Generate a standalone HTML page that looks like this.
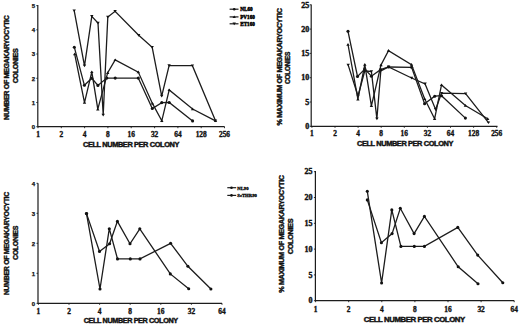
<!DOCTYPE html>
<html><head><meta charset="utf-8"><style>
html,body{margin:0;padding:0;background:#fff;}
body{width:520px;height:326px;overflow:hidden;}
svg{display:block;}
.t{font-family:"Liberation Sans",sans-serif;font-weight:bold;font-size:6.6px;fill:#111;stroke:#111;stroke-width:0.4px;letter-spacing:-0.35px;}
.yt{font-size:7px;}
.lg.lg3{font-size:4.7px;stroke-width:0.3px;}
.ys{font-family:"Liberation Sans",sans-serif;font-weight:bold;font-size:6px;fill:#111;stroke:#111;stroke-width:0.25px;}
.ys2{font-family:"Liberation Serif",serif;font-weight:bold;font-size:8px;fill:#111;stroke:#111;stroke-width:0.4px;}
.xs{font-family:"Liberation Serif",serif;font-weight:bold;font-size:7.4px;fill:#111;stroke:#111;stroke-width:0.35px;}
.lg{font-family:"Liberation Serif",serif;font-weight:bold;font-size:5.2px;fill:#000;stroke:#000;stroke-width:0.45px;}
</style></head><body>
<svg width="520" height="326" viewBox="0 0 520 326">
<rect width="520" height="326" fill="#fff"/>
<path d="M37.8 5.0 V126.7 H224.6" fill="none" stroke="#1c1c1c" stroke-width="1.2"/><path d="M36.3 126.7 H37.8" stroke="#1c1c1c" stroke-width="0.9"/><path d="M36.3 102.5 H37.8" stroke="#1c1c1c" stroke-width="0.9"/><path d="M36.3 78.3 H37.8" stroke="#1c1c1c" stroke-width="0.9"/><path d="M36.3 54.0 H37.8" stroke="#1c1c1c" stroke-width="0.9"/><path d="M36.3 29.8 H37.8" stroke="#1c1c1c" stroke-width="0.9"/><path d="M36.3 5.6 H37.8" stroke="#1c1c1c" stroke-width="0.9"/><path d="M38.0 126.7 V128.2" stroke="#1c1c1c" stroke-width="0.9"/><path d="M61.3 126.7 V128.2" stroke="#1c1c1c" stroke-width="0.9"/><path d="M84.6 126.7 V128.2" stroke="#1c1c1c" stroke-width="0.9"/><path d="M107.9 126.7 V128.2" stroke="#1c1c1c" stroke-width="0.9"/><path d="M131.2 126.7 V128.2" stroke="#1c1c1c" stroke-width="0.9"/><path d="M154.6 126.7 V128.2" stroke="#1c1c1c" stroke-width="0.9"/><path d="M177.9 126.7 V128.2" stroke="#1c1c1c" stroke-width="0.9"/><path d="M201.2 126.7 V128.2" stroke="#1c1c1c" stroke-width="0.9"/><path d="M224.5 126.7 V128.2" stroke="#1c1c1c" stroke-width="0.9"/><text x="35.2" y="129.0" text-anchor="end" class="ys">0</text><text x="35.2" y="104.8" text-anchor="end" class="ys">1</text><text x="35.2" y="80.6" text-anchor="end" class="ys">2</text><text x="35.2" y="56.3" text-anchor="end" class="ys">3</text><text x="35.2" y="32.1" text-anchor="end" class="ys">4</text><text x="35.2" y="7.9" text-anchor="end" class="ys">5</text><text x="38.0" y="136.6" text-anchor="middle" class="xs">1</text><text x="61.3" y="136.6" text-anchor="middle" class="xs">2</text><text x="84.6" y="136.6" text-anchor="middle" class="xs">4</text><text x="107.9" y="136.6" text-anchor="middle" class="xs">8</text><text x="131.2" y="136.6" text-anchor="middle" class="xs">16</text><text x="154.6" y="136.6" text-anchor="middle" class="xs">32</text><text x="177.9" y="136.6" text-anchor="middle" class="xs">64</text><text x="201.2" y="136.6" text-anchor="middle" class="xs">128</text><text x="224.5" y="136.6" text-anchor="middle" class="xs">256</text>
<path d="M311.2 4.5 V126.3 H497.5" fill="none" stroke="#1c1c1c" stroke-width="1.2"/><path d="M309.7 126.3 H311.2" stroke="#1c1c1c" stroke-width="0.9"/><path d="M309.7 102.0 H311.2" stroke="#1c1c1c" stroke-width="0.9"/><path d="M309.7 77.7 H311.2" stroke="#1c1c1c" stroke-width="0.9"/><path d="M309.7 53.4 H311.2" stroke="#1c1c1c" stroke-width="0.9"/><path d="M309.7 29.1 H311.2" stroke="#1c1c1c" stroke-width="0.9"/><path d="M309.7 4.8 H311.2" stroke="#1c1c1c" stroke-width="0.9"/><path d="M311.9 126.3 V127.8" stroke="#1c1c1c" stroke-width="0.9"/><path d="M335.0 126.3 V127.8" stroke="#1c1c1c" stroke-width="0.9"/><path d="M358.1 126.3 V127.8" stroke="#1c1c1c" stroke-width="0.9"/><path d="M381.2 126.3 V127.8" stroke="#1c1c1c" stroke-width="0.9"/><path d="M404.3 126.3 V127.8" stroke="#1c1c1c" stroke-width="0.9"/><path d="M427.4 126.3 V127.8" stroke="#1c1c1c" stroke-width="0.9"/><path d="M450.5 126.3 V127.8" stroke="#1c1c1c" stroke-width="0.9"/><path d="M473.6 126.3 V127.8" stroke="#1c1c1c" stroke-width="0.9"/><path d="M496.7 126.3 V127.8" stroke="#1c1c1c" stroke-width="0.9"/><text x="309.3" y="129.1" text-anchor="end" class="ys2">0</text><text x="309.3" y="104.8" text-anchor="end" class="ys2">5</text><text x="309.3" y="80.4" text-anchor="end" class="ys2">10</text><text x="309.3" y="56.1" text-anchor="end" class="ys2">15</text><text x="309.3" y="31.8" text-anchor="end" class="ys2">20</text><text x="309.3" y="7.5" text-anchor="end" class="ys2">25</text><text x="311.9" y="135.9" text-anchor="middle" class="xs">1</text><text x="335.0" y="135.9" text-anchor="middle" class="xs">2</text><text x="358.1" y="135.9" text-anchor="middle" class="xs">4</text><text x="381.2" y="135.9" text-anchor="middle" class="xs">8</text><text x="404.3" y="135.9" text-anchor="middle" class="xs">16</text><text x="427.4" y="135.9" text-anchor="middle" class="xs">32</text><text x="450.5" y="135.9" text-anchor="middle" class="xs">64</text><text x="473.6" y="135.9" text-anchor="middle" class="xs">128</text><text x="496.7" y="135.9" text-anchor="middle" class="xs">256</text>
<path d="M38.0 183.2 V303.3 H222.0" fill="none" stroke="#1c1c1c" stroke-width="1.2"/><path d="M36.5 303.3 H38.0" stroke="#1c1c1c" stroke-width="0.9"/><path d="M36.5 273.3 H38.0" stroke="#1c1c1c" stroke-width="0.9"/><path d="M36.5 243.3 H38.0" stroke="#1c1c1c" stroke-width="0.9"/><path d="M36.5 213.3 H38.0" stroke="#1c1c1c" stroke-width="0.9"/><path d="M36.5 183.3 H38.0" stroke="#1c1c1c" stroke-width="0.9"/><path d="M38.4 303.3 V304.8" stroke="#1c1c1c" stroke-width="0.9"/><path d="M69.0 303.3 V304.8" stroke="#1c1c1c" stroke-width="0.9"/><path d="M99.6 303.3 V304.8" stroke="#1c1c1c" stroke-width="0.9"/><path d="M130.2 303.3 V304.8" stroke="#1c1c1c" stroke-width="0.9"/><path d="M160.8 303.3 V304.8" stroke="#1c1c1c" stroke-width="0.9"/><path d="M191.4 303.3 V304.8" stroke="#1c1c1c" stroke-width="0.9"/><path d="M222.0 303.3 V304.8" stroke="#1c1c1c" stroke-width="0.9"/><text x="35.2" y="305.6" text-anchor="end" class="ys">0</text><text x="35.2" y="275.6" text-anchor="end" class="ys">1</text><text x="35.2" y="245.6" text-anchor="end" class="ys">2</text><text x="35.2" y="215.6" text-anchor="end" class="ys">3</text><text x="35.2" y="185.6" text-anchor="end" class="ys">4</text><text x="38.4" y="313.5" text-anchor="middle" class="xs">1</text><text x="69.0" y="313.5" text-anchor="middle" class="xs">2</text><text x="99.6" y="313.5" text-anchor="middle" class="xs">4</text><text x="130.2" y="313.5" text-anchor="middle" class="xs">8</text><text x="160.8" y="313.5" text-anchor="middle" class="xs">16</text><text x="191.4" y="313.5" text-anchor="middle" class="xs">32</text><text x="222.0" y="313.5" text-anchor="middle" class="xs">64</text>
<path d="M315.4 171.0 V300.7 H514.2" fill="none" stroke="#1c1c1c" stroke-width="1.2"/><path d="M313.9 300.7 H315.4" stroke="#1c1c1c" stroke-width="0.9"/><path d="M313.9 274.9 H315.4" stroke="#1c1c1c" stroke-width="0.9"/><path d="M313.9 249.1 H315.4" stroke="#1c1c1c" stroke-width="0.9"/><path d="M313.9 223.3 H315.4" stroke="#1c1c1c" stroke-width="0.9"/><path d="M313.9 197.5 H315.4" stroke="#1c1c1c" stroke-width="0.9"/><path d="M313.9 171.7 H315.4" stroke="#1c1c1c" stroke-width="0.9"/><path d="M315.6 300.7 V302.2" stroke="#1c1c1c" stroke-width="0.9"/><path d="M348.7 300.7 V302.2" stroke="#1c1c1c" stroke-width="0.9"/><path d="M381.8 300.7 V302.2" stroke="#1c1c1c" stroke-width="0.9"/><path d="M414.9 300.7 V302.2" stroke="#1c1c1c" stroke-width="0.9"/><path d="M448.0 300.7 V302.2" stroke="#1c1c1c" stroke-width="0.9"/><path d="M481.1 300.7 V302.2" stroke="#1c1c1c" stroke-width="0.9"/><path d="M514.2 300.7 V302.2" stroke="#1c1c1c" stroke-width="0.9"/><text x="312.6" y="303.4" text-anchor="end" class="ys2">0</text><text x="312.6" y="277.6" text-anchor="end" class="ys2">5</text><text x="312.6" y="251.8" text-anchor="end" class="ys2">10</text><text x="312.6" y="226.0" text-anchor="end" class="ys2">15</text><text x="312.6" y="200.2" text-anchor="end" class="ys2">20</text><text x="312.6" y="174.4" text-anchor="end" class="ys2">25</text><text x="315.6" y="311.6" text-anchor="middle" class="xs">1</text><text x="348.7" y="311.6" text-anchor="middle" class="xs">2</text><text x="381.8" y="311.6" text-anchor="middle" class="xs">4</text><text x="414.9" y="311.6" text-anchor="middle" class="xs">8</text><text x="448.0" y="311.6" text-anchor="middle" class="xs">16</text><text x="481.1" y="311.6" text-anchor="middle" class="xs">32</text><text x="514.2" y="311.6" text-anchor="middle" class="xs">64</text>
<polyline points="74.2,10.7 84.5,65.8 91.8,16.4 98.0,23.0 103.2,115.0 107.8,17.0 115.1,11.3 138.7,35.3 152.2,47.3 161.7,96.1 169.1,65.6 192.4,65.7 215.5,120.8" fill="none" stroke="#1c1c1c" stroke-width="1.3" stroke-linejoin="miter" stroke-miterlimit="3"/>
<path d="M72.5 9.4L75.9 9.4L74.2 12.1Z" fill="#111"/><path d="M82.8 64.5L86.2 64.5L84.5 67.2Z" fill="#111"/><path d="M90.1 15.1L93.5 15.1L91.8 17.8Z" fill="#111"/><path d="M96.3 21.7L99.7 21.7L98.0 24.4Z" fill="#111"/><path d="M101.5 113.7L104.9 113.7L103.2 116.4Z" fill="#111"/><path d="M106.1 15.7L109.5 15.7L107.8 18.4Z" fill="#111"/><path d="M113.4 10.0L116.8 10.0L115.1 12.7Z" fill="#111"/><path d="M137.0 34.0L140.4 34.0L138.7 36.7Z" fill="#111"/><path d="M150.5 46.0L153.9 46.0L152.2 48.7Z" fill="#111"/><path d="M160.0 94.8L163.4 94.8L161.7 97.5Z" fill="#111"/><path d="M167.4 64.3L170.8 64.3L169.1 67.0Z" fill="#111"/><path d="M190.7 64.4L194.1 64.4L192.4 67.1Z" fill="#111"/><path d="M213.8 119.5L217.2 119.5L215.5 122.2Z" fill="#111"/>
<polyline points="74.3,47.2 84.4,85.3 91.8,78.3 97.9,85.4 106.8,78.1 115.2,78.1 138.3,78.1 152.3,108.5 161.8,102.6 169.2,102.5 192.6,120.9" fill="none" stroke="#1c1c1c" stroke-width="1.3" stroke-linejoin="miter" stroke-miterlimit="3"/>
<circle cx="74.3" cy="47.2" r="1.55" fill="#111"/><circle cx="84.4" cy="85.3" r="1.55" fill="#111"/><circle cx="91.8" cy="78.3" r="1.55" fill="#111"/><circle cx="97.9" cy="85.4" r="1.55" fill="#111"/><circle cx="106.8" cy="78.1" r="1.55" fill="#111"/><circle cx="115.2" cy="78.1" r="1.55" fill="#111"/><circle cx="138.3" cy="78.1" r="1.55" fill="#111"/><circle cx="152.3" cy="108.5" r="1.55" fill="#111"/><circle cx="161.8" cy="102.6" r="1.55" fill="#111"/><circle cx="169.2" cy="102.5" r="1.55" fill="#111"/><circle cx="192.6" cy="120.9" r="1.55" fill="#111"/>
<polyline points="74.7,54.1 84.5,102.6 91.8,71.9 97.8,109.2 107.7,72.7 115.2,59.9 138.3,72.1 152.4,103.4 161.8,120.8 169.2,89.9 192.6,109.0 215.5,120.8" fill="none" stroke="#1c1c1c" stroke-width="1.3" stroke-linejoin="miter" stroke-miterlimit="3"/>
<path d="M73.0 55.3L76.4 55.3L74.7 52.6Z" fill="#111"/><path d="M82.8 103.8L86.2 103.8L84.5 101.1Z" fill="#111"/><path d="M90.1 73.1L93.5 73.1L91.8 70.4Z" fill="#111"/><path d="M96.1 110.4L99.5 110.4L97.8 107.7Z" fill="#111"/><path d="M106.0 73.9L109.4 73.9L107.7 71.2Z" fill="#111"/><path d="M113.5 61.1L116.9 61.1L115.2 58.4Z" fill="#111"/><path d="M136.6 73.3L140.0 73.3L138.3 70.6Z" fill="#111"/><path d="M150.7 104.6L154.1 104.6L152.4 101.9Z" fill="#111"/><path d="M160.1 122.0L163.5 122.0L161.8 119.3Z" fill="#111"/><path d="M167.5 91.1L170.9 91.1L169.2 88.4Z" fill="#111"/><path d="M190.9 110.2L194.3 110.2L192.6 107.5Z" fill="#111"/><path d="M213.8 122.0L217.2 122.0L215.5 119.3Z" fill="#111"/>
<polyline points="348.2,65.1 358.0,96.0 364.8,70.8 371.4,71.6 376.9,118.8 380.8,70.9 388.6,66.9 411.6,78.0 425.1,83.9 435.6,109.4 441.5,93.2 465.6,93.7 488.5,122.7" fill="none" stroke="#1c1c1c" stroke-width="1.3" stroke-linejoin="miter" stroke-miterlimit="3"/>
<path d="M346.5 63.8L349.9 63.8L348.2 66.5Z" fill="#111"/><path d="M356.3 94.7L359.7 94.7L358.0 97.4Z" fill="#111"/><path d="M363.1 69.5L366.5 69.5L364.8 72.2Z" fill="#111"/><path d="M369.7 70.3L373.1 70.3L371.4 73.0Z" fill="#111"/><path d="M375.2 117.5L378.6 117.5L376.9 120.2Z" fill="#111"/><path d="M379.1 69.6L382.5 69.6L380.8 72.3Z" fill="#111"/><path d="M386.9 65.6L390.3 65.6L388.6 68.3Z" fill="#111"/><path d="M409.9 76.7L413.3 76.7L411.6 79.4Z" fill="#111"/><path d="M423.4 82.6L426.8 82.6L425.1 85.3Z" fill="#111"/><path d="M433.9 108.1L437.3 108.1L435.6 110.8Z" fill="#111"/><path d="M439.8 91.9L443.2 91.9L441.5 94.6Z" fill="#111"/><path d="M463.9 92.4L467.3 92.4L465.6 95.1Z" fill="#111"/><path d="M486.8 121.4L490.2 121.4L488.5 124.1Z" fill="#111"/>
<polyline points="348.0,31.3 357.5,76.5 364.8,69.1 371.4,76.2 380.5,69.6 388.6,67.0 411.6,67.3 424.6,103.8 434.7,96.2 441.5,95.7 465.4,118.1" fill="none" stroke="#1c1c1c" stroke-width="1.3" stroke-linejoin="miter" stroke-miterlimit="3"/>
<circle cx="348.0" cy="31.3" r="1.55" fill="#111"/><circle cx="357.5" cy="76.5" r="1.55" fill="#111"/><circle cx="364.8" cy="69.1" r="1.55" fill="#111"/><circle cx="371.4" cy="76.2" r="1.55" fill="#111"/><circle cx="380.5" cy="69.6" r="1.55" fill="#111"/><circle cx="388.6" cy="67.0" r="1.55" fill="#111"/><circle cx="411.6" cy="67.3" r="1.55" fill="#111"/><circle cx="424.6" cy="103.8" r="1.55" fill="#111"/><circle cx="434.7" cy="96.2" r="1.55" fill="#111"/><circle cx="441.5" cy="95.7" r="1.55" fill="#111"/><circle cx="465.4" cy="118.1" r="1.55" fill="#111"/>
<polyline points="348.0,44.5 357.9,99.2 364.8,64.6 371.4,105.8 381.0,65.0 388.5,50.6 411.5,64.6 424.6,98.7 434.6,118.8 441.5,84.9 465.4,105.5 487.7,118.8" fill="none" stroke="#1c1c1c" stroke-width="1.3" stroke-linejoin="miter" stroke-miterlimit="3"/>
<path d="M346.3 45.7L349.7 45.7L348.0 43.0Z" fill="#111"/><path d="M356.2 100.4L359.6 100.4L357.9 97.7Z" fill="#111"/><path d="M363.1 65.8L366.5 65.8L364.8 63.1Z" fill="#111"/><path d="M369.7 107.0L373.1 107.0L371.4 104.3Z" fill="#111"/><path d="M379.3 66.2L382.7 66.2L381.0 63.5Z" fill="#111"/><path d="M386.8 51.8L390.2 51.8L388.5 49.1Z" fill="#111"/><path d="M409.8 65.8L413.2 65.8L411.5 63.1Z" fill="#111"/><path d="M422.9 99.9L426.3 99.9L424.6 97.2Z" fill="#111"/><path d="M432.9 120.0L436.3 120.0L434.6 117.3Z" fill="#111"/><path d="M439.8 86.1L443.2 86.1L441.5 83.4Z" fill="#111"/><path d="M463.7 106.7L467.1 106.7L465.4 104.0Z" fill="#111"/><path d="M486.0 120.0L489.4 120.0L487.7 117.3Z" fill="#111"/>
<polyline points="86.5,213.6 99.5,251.4 109.6,243.8 117.4,221.4 130.0,243.8 139.8,228.8 170.3,273.9 188.7,288.7" fill="none" stroke="#1c1c1c" stroke-width="1.3" stroke-linejoin="miter" stroke-miterlimit="3"/>
<circle cx="86.5" cy="213.6" r="1.55" fill="#111"/><circle cx="99.5" cy="251.4" r="1.55" fill="#111"/><circle cx="109.6" cy="243.8" r="1.55" fill="#111"/><circle cx="117.4" cy="221.4" r="1.55" fill="#111"/><circle cx="130.0" cy="243.8" r="1.55" fill="#111"/><circle cx="139.8" cy="228.8" r="1.55" fill="#111"/><circle cx="170.3" cy="273.9" r="1.55" fill="#111"/><circle cx="188.7" cy="288.7" r="1.55" fill="#111"/>
<polyline points="86.5,213.6 100.0,289.0 109.3,228.7 117.5,258.9 130.3,258.9 140.0,258.9 170.6,243.3 187.9,266.3 210.9,289.0" fill="none" stroke="#1c1c1c" stroke-width="1.3" stroke-linejoin="miter" stroke-miterlimit="3"/>
<circle cx="86.5" cy="213.6" r="1.55" fill="#111"/><circle cx="100.0" cy="289.0" r="1.55" fill="#111"/><circle cx="109.3" cy="228.7" r="1.55" fill="#111"/><circle cx="117.5" cy="258.9" r="1.55" fill="#111"/><circle cx="130.3" cy="258.9" r="1.55" fill="#111"/><circle cx="140.0" cy="258.9" r="1.55" fill="#111"/><circle cx="170.6" cy="243.3" r="1.55" fill="#111"/><circle cx="187.9" cy="266.3" r="1.55" fill="#111"/><circle cx="210.9" cy="289.0" r="1.55" fill="#111"/>
<polyline points="367.3,199.9 381.4,242.7 392.1,233.6 400.3,208.3 414.1,233.6 424.4,216.4 458.2,266.8 478.0,283.8" fill="none" stroke="#1c1c1c" stroke-width="1.3" stroke-linejoin="miter" stroke-miterlimit="3"/>
<circle cx="367.3" cy="199.9" r="1.55" fill="#111"/><circle cx="381.4" cy="242.7" r="1.55" fill="#111"/><circle cx="392.1" cy="233.6" r="1.55" fill="#111"/><circle cx="400.3" cy="208.3" r="1.55" fill="#111"/><circle cx="414.1" cy="233.6" r="1.55" fill="#111"/><circle cx="424.4" cy="216.4" r="1.55" fill="#111"/><circle cx="458.2" cy="266.8" r="1.55" fill="#111"/><circle cx="478.0" cy="283.8" r="1.55" fill="#111"/>
<polyline points="367.3,191.3 381.6,283.0 391.8,209.9 400.9,246.4 414.3,246.4 424.4,246.4 457.8,227.4 477.7,255.1 502.8,282.8" fill="none" stroke="#1c1c1c" stroke-width="1.3" stroke-linejoin="miter" stroke-miterlimit="3"/>
<circle cx="367.3" cy="191.3" r="1.55" fill="#111"/><circle cx="381.6" cy="283.0" r="1.55" fill="#111"/><circle cx="391.8" cy="209.9" r="1.55" fill="#111"/><circle cx="400.9" cy="246.4" r="1.55" fill="#111"/><circle cx="414.3" cy="246.4" r="1.55" fill="#111"/><circle cx="424.4" cy="246.4" r="1.55" fill="#111"/><circle cx="457.8" cy="227.4" r="1.55" fill="#111"/><circle cx="477.7" cy="255.1" r="1.55" fill="#111"/><circle cx="502.8" cy="282.8" r="1.55" fill="#111"/>
<text x="83.0" y="146.6" class="t" textLength="96.0" lengthAdjust="spacingAndGlyphs">CELL NUMBER PER COLONY</text>
<text x="357.0" y="145.8" class="t" textLength="96.0" lengthAdjust="spacingAndGlyphs">CELL NUMBER PER COLONY</text>
<text x="83.7" y="322.5" class="t" textLength="94.0" lengthAdjust="spacingAndGlyphs">CELL NUMBER PER COLONY</text>
<text x="363.8" y="322.0" class="t" textLength="101.0" lengthAdjust="spacingAndGlyphs">CELL NUMBER PER COLONY</text>
<text transform="translate(8.5 67.7) rotate(-90)" text-anchor="middle" class="t yt" textLength="104.4" lengthAdjust="spacingAndGlyphs">NUMBER OF MEGAKARYOCYTIC</text>
<text transform="translate(17.5 66.0) rotate(-90)" text-anchor="middle" class="t yt" textLength="34.7" lengthAdjust="spacingAndGlyphs">COLONIES</text>
<text transform="translate(8.5 243.6) rotate(-90)" text-anchor="middle" class="t yt" textLength="103.0" lengthAdjust="spacingAndGlyphs">NUMBER OF MEGAKARYOCYTIC</text>
<text transform="translate(17.5 243.0) rotate(-90)" text-anchor="middle" class="t yt" textLength="34.0" lengthAdjust="spacingAndGlyphs">COLONIES</text>
<text transform="translate(281.5 67.0) rotate(-90)" text-anchor="middle" class="t yt" textLength="117.0" lengthAdjust="spacingAndGlyphs">% MAXIMUM OF MEGAKARYOCYTIC</text>
<text transform="translate(290.0 68.0) rotate(-90)" text-anchor="middle" class="t yt" textLength="32.0" lengthAdjust="spacingAndGlyphs">COLONIES</text>
<text transform="translate(284.0 234.1) rotate(-90)" text-anchor="middle" class="t yt" textLength="117.5" lengthAdjust="spacingAndGlyphs">% MAXIMUM OF MEGAKARYOCYTIC</text>
<text transform="translate(293.2 236.5) rotate(-90)" text-anchor="middle" class="t yt" textLength="35.3" lengthAdjust="spacingAndGlyphs">COLONIES</text>
<path d="M229.6 9.2 H238.5" stroke="#1c1c1c" stroke-width="1.2"/><circle cx="234.2" cy="9.2" r="1.3" fill="#111"/><text x="240.2" y="11.0" class="lg">NL60</text><path d="M229.6 16.9 H238.5" stroke="#1c1c1c" stroke-width="1.2"/><path d="M232.5 18.1L235.9 18.1L234.2 15.4Z" fill="#111"/><text x="240.2" y="18.7" class="lg">PV160</text><path d="M229.6 23.8 H238.5" stroke="#1c1c1c" stroke-width="1.2"/><path d="M232.5 22.5L235.9 22.5L234.2 25.2Z" fill="#111"/><text x="240.2" y="25.6" class="lg">ET160</text>
<path d="M227.3 187.7 H236.2" stroke="#1c1c1c" stroke-width="1.2"/><circle cx="231.5" cy="187.7" r="1.3" fill="#111"/><text x="237.3" y="189.5" class="lg lg3">NL90</text><path d="M227.3 195.4 H236.2" stroke="#1c1c1c" stroke-width="1.2"/><circle cx="231.5" cy="195.4" r="1.3" fill="#111"/><text x="237.3" y="197.2" class="lg lg3">SeTHR90</text>
</svg>
</body></html>
